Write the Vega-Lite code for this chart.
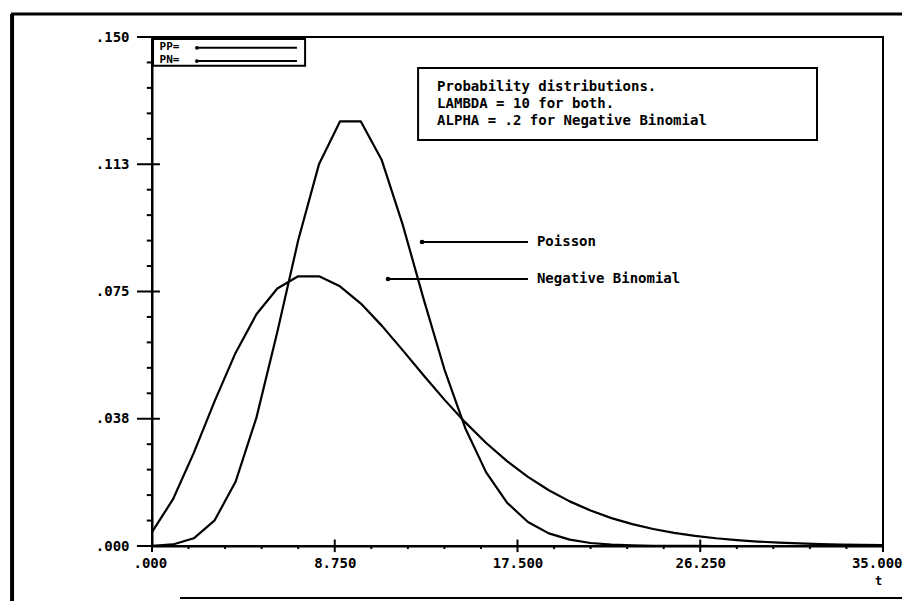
{
  "$schema": "https://vega.github.io/schema/vega-lite/v6.json",
  "width": 731,
  "height": 509,
  "autosize": "none",
  "padding": {"left": 152, "top": 37, "right": 19, "bottom": 55},
  "background": "white",
  "config": {
    "view": {"stroke": "black", "strokeWidth": 2},
    "font": "DejaVu Sans Mono"
  },
  "datasets": {
    "pmf": [
      {"t": 0, "dist": "Poisson", "p": 0.0000454},
      {"t": 1, "dist": "Poisson", "p": 0.000454},
      {"t": 2, "dist": "Poisson", "p": 0.00227},
      {"t": 3, "dist": "Poisson", "p": 0.00757},
      {"t": 4, "dist": "Poisson", "p": 0.01892},
      {"t": 5, "dist": "Poisson", "p": 0.03783},
      {"t": 6, "dist": "Poisson", "p": 0.06306},
      {"t": 7, "dist": "Poisson", "p": 0.09008},
      {"t": 8, "dist": "Poisson", "p": 0.1126},
      {"t": 9, "dist": "Poisson", "p": 0.12511},
      {"t": 10, "dist": "Poisson", "p": 0.12511},
      {"t": 11, "dist": "Poisson", "p": 0.11374},
      {"t": 12, "dist": "Poisson", "p": 0.09478},
      {"t": 13, "dist": "Poisson", "p": 0.07291},
      {"t": 14, "dist": "Poisson", "p": 0.05208},
      {"t": 15, "dist": "Poisson", "p": 0.03472},
      {"t": 16, "dist": "Poisson", "p": 0.0217},
      {"t": 17, "dist": "Poisson", "p": 0.01276},
      {"t": 18, "dist": "Poisson", "p": 0.00709},
      {"t": 19, "dist": "Poisson", "p": 0.00373},
      {"t": 20, "dist": "Poisson", "p": 0.00187},
      {"t": 21, "dist": "Poisson", "p": 0.00089},
      {"t": 22, "dist": "Poisson", "p": 0.0004},
      {"t": 23, "dist": "Poisson", "p": 0.00018},
      {"t": 24, "dist": "Poisson", "p": 0.00007},
      {"t": 25, "dist": "Poisson", "p": 0.00003},
      {"t": 26, "dist": "Poisson", "p": 0.00001},
      {"t": 27, "dist": "Poisson", "p": 0},
      {"t": 28, "dist": "Poisson", "p": 0},
      {"t": 29, "dist": "Poisson", "p": 0},
      {"t": 30, "dist": "Poisson", "p": 0},
      {"t": 31, "dist": "Poisson", "p": 0},
      {"t": 32, "dist": "Poisson", "p": 0},
      {"t": 33, "dist": "Poisson", "p": 0},
      {"t": 34, "dist": "Poisson", "p": 0},
      {"t": 35, "dist": "Poisson", "p": 0},
      {"t": 0, "dist": "Negative Binomial", "p": 0.004115},
      {"t": 1, "dist": "Negative Binomial", "p": 0.013717},
      {"t": 2, "dist": "Negative Binomial", "p": 0.027435},
      {"t": 3, "dist": "Negative Binomial", "p": 0.042677},
      {"t": 4, "dist": "Negative Binomial", "p": 0.056902},
      {"t": 5, "dist": "Negative Binomial", "p": 0.068282},
      {"t": 6, "dist": "Negative Binomial", "p": 0.075869},
      {"t": 7, "dist": "Negative Binomial", "p": 0.079482},
      {"t": 8, "dist": "Negative Binomial", "p": 0.079482},
      {"t": 9, "dist": "Negative Binomial", "p": 0.076538},
      {"t": 10, "dist": "Negative Binomial", "p": 0.071439},
      {"t": 11, "dist": "Negative Binomial", "p": 0.064942},
      {"t": 12, "dist": "Negative Binomial", "p": 0.057726},
      {"t": 13, "dist": "Negative Binomial", "p": 0.050325},
      {"t": 14, "dist": "Negative Binomial", "p": 0.043136},
      {"t": 15, "dist": "Negative Binomial", "p": 0.036426},
      {"t": 16, "dist": "Negative Binomial", "p": 0.030354},
      {"t": 17, "dist": "Negative Binomial", "p": 0.024999},
      {"t": 18, "dist": "Negative Binomial", "p": 0.020369},
      {"t": 19, "dist": "Negative Binomial", "p": 0.016438},
      {"t": 20, "dist": "Negative Binomial", "p": 0.013151},
      {"t": 21, "dist": "Negative Binomial", "p": 0.010437},
      {"t": 22, "dist": "Negative Binomial", "p": 0.008223},
      {"t": 23, "dist": "Negative Binomial", "p": 0.006435},
      {"t": 24, "dist": "Negative Binomial", "p": 0.005005},
      {"t": 25, "dist": "Negative Binomial", "p": 0.003871},
      {"t": 26, "dist": "Negative Binomial", "p": 0.002977},
      {"t": 27, "dist": "Negative Binomial", "p": 0.002279},
      {"t": 28, "dist": "Negative Binomial", "p": 0.001736},
      {"t": 29, "dist": "Negative Binomial", "p": 0.001317},
      {"t": 30, "dist": "Negative Binomial", "p": 0.000995},
      {"t": 31, "dist": "Negative Binomial", "p": 0.000749},
      {"t": 32, "dist": "Negative Binomial", "p": 0.000562},
      {"t": 33, "dist": "Negative Binomial", "p": 0.00042},
      {"t": 34, "dist": "Negative Binomial", "p": 0.000313},
      {"t": 35, "dist": "Negative Binomial", "p": 0.000232}
    ],
    "ymajor": [{"v": 0}, {"v": 0.0375}, {"v": 0.075}, {"v": 0.1125}, {"v": 0.15}],
    "xmajor": [{"v": 0}, {"v": 8.75}, {"v": 17.5}, {"v": 26.25}, {"v": 35}],
    "yminor": [
      {"v": 0.0075}, {"v": 0.015}, {"v": 0.0225}, {"v": 0.03},
      {"v": 0.045}, {"v": 0.0525}, {"v": 0.06}, {"v": 0.0675},
      {"v": 0.0825}, {"v": 0.09}, {"v": 0.0975}, {"v": 0.105},
      {"v": 0.12}, {"v": 0.1275}, {"v": 0.135}, {"v": 0.1425}
    ],
    "xminor": [
      {"v": 1.75}, {"v": 3.5}, {"v": 5.25}, {"v": 7},
      {"v": 10.5}, {"v": 12.25}, {"v": 14}, {"v": 15.75},
      {"v": 19.25}, {"v": 21}, {"v": 22.75}, {"v": 24.5},
      {"v": 28}, {"v": 29.75}, {"v": 31.5}, {"v": 33.25}
    ]
  },
  "layer": [
    {
      "data": {"name": "pmf"},
      "mark": {"type": "line", "color": "black", "strokeWidth": 2.2, "strokeJoin": "round", "clip": true},
      "encoding": {
        "x": {
          "field": "t", "type": "quantitative",
          "scale": {"domain": [0, 35], "nice": false, "zero": false},
          "axis": {
            "values": [0, 8.75, 17.5, 26.25, 35],
            "labelExpr": "datum.value == 0 ? '.000' : datum.value == 8.75 ? '8.750' : datum.value == 17.5 ? '17.500' : datum.value == 26.25 ? '26.250' : '35.000'",
            "ticks": false,
            "domainColor": "black", "domainWidth": 2,
            "labelFont": "DejaVu Sans Mono", "labelFontWeight": "bold", "labelFontSize": 14, "labelColor": "black",
            "labelPadding": 10, "labelOverlap": false, "labelFlush": true, "labelFlushOffset": 19,
            "grid": false,
            "title": "t", "titleFont": "DejaVu Sans Mono", "titleFontWeight": "bold", "titleFontSize": 12, "titleColor": "black",
            "titleX": 726, "titleY": 34, "titleAlign": "center", "titleBaseline": "middle"
          }
        },
        "y": {
          "field": "p", "type": "quantitative",
          "scale": {"domain": [0, 0.15], "nice": false, "zero": false},
          "axis": {
            "values": [0, 0.0375, 0.075, 0.1125, 0.15],
            "labelExpr": "datum.value < 0.001 ? '.000' : abs(datum.value - 0.0375) < 0.001 ? '.038' : abs(datum.value - 0.075) < 0.001 ? '.075' : abs(datum.value - 0.1125) < 0.001 ? '.113' : '.150'",
            "ticks": false,
            "domainColor": "black", "domainWidth": 2,
            "labelFont": "DejaVu Sans Mono", "labelFontWeight": "bold", "labelFontSize": 14, "labelColor": "black",
            "labelPadding": 23, "labelOverlap": false, "labelFlush": false,
            "grid": false, "title": null
          }
        },
        "detail": {"field": "dist", "type": "nominal"}
      }
    },
    {
      "data": {"name": "ymajor"},
      "mark": {"type": "rule", "color": "black", "strokeWidth": 2},
      "encoding": {
        "y": {"field": "v", "type": "quantitative"},
        "x": {"datum": -0.72, "type": "quantitative"},
        "x2": {"datum": 0.38}
      }
    },
    {
      "data": {"name": "xmajor"},
      "mark": {"type": "rule", "color": "black", "strokeWidth": 2},
      "encoding": {
        "x": {"field": "v", "type": "quantitative"},
        "y": {"datum": -0.0018, "type": "quantitative"},
        "y2": {"datum": 0.0019}
      }
    },
    {
      "data": {"name": "yminor"},
      "mark": {"type": "rule", "color": "black", "strokeWidth": 2},
      "encoding": {
        "y": {"field": "v", "type": "quantitative"},
        "x": {"datum": -0.25, "type": "quantitative"},
        "x2": {"datum": 0}
      }
    },
    {
      "data": {"name": "xminor"},
      "mark": {"type": "rule", "color": "black", "strokeWidth": 2},
      "encoding": {
        "x": {"field": "v", "type": "quantitative"},
        "y": {"datum": -0.0009, "type": "quantitative"},
        "y2": {"datum": 0}
      }
    },
    {
      "data": {"values": [{}]},
      "mark": {"type": "rule", "color": "black", "strokeWidth": 4},
      "encoding": {
        "x": {"datum": -6.7, "type": "quantitative"},
        "y": {"datum": 0.1568, "type": "quantitative"},
        "y2": {"datum": -0.0165}
      }
    },
    {
      "data": {"values": [{}]},
      "mark": {"type": "rule", "color": "black", "strokeWidth": 3},
      "encoding": {
        "x": {"datum": -6.75, "type": "quantitative"},
        "x2": {"datum": 36.2},
        "y": {"datum": 0.1568, "type": "quantitative"}
      }
    },
    {
      "data": {"values": [{}]},
      "mark": {"type": "rule", "color": "black", "strokeWidth": 2},
      "encoding": {
        "x": {"datum": 1.34, "type": "quantitative"},
        "x2": {"datum": 36.2},
        "y": {"datum": -0.0153, "type": "quantitative"}
      }
    },
    {
      "data": {"values": [{}]},
      "mark": {"type": "rect", "fill": "white", "stroke": "black", "strokeWidth": 2},
      "encoding": {
        "x": {"datum": 0.05, "type": "quantitative"},
        "x2": {"datum": 7.33},
        "y": {"datum": 0.1494, "type": "quantitative"},
        "y2": {"datum": 0.1415}
      }
    },
    {
      "data": {"values": [{}]},
      "mark": {"type": "text", "align": "left", "baseline": "top", "font": "DejaVu Sans Mono", "fontWeight": "bold", "fontSize": 11, "lineHeight": 13, "color": "black", "text": ["PP=", "PN="]},
      "encoding": {
        "x": {"datum": 0.36, "type": "quantitative"},
        "y": {"datum": 0.1488, "type": "quantitative"}
      }
    },
    {
      "data": {"values": [{}]},
      "mark": {"type": "rule", "color": "black", "strokeWidth": 2},
      "encoding": {
        "x": {"datum": 2.15, "type": "quantitative"},
        "x2": {"datum": 6.94},
        "y": {"datum": 0.1468, "type": "quantitative"}
      }
    },
    {
      "data": {"values": [{}]},
      "mark": {"type": "rule", "color": "black", "strokeWidth": 2},
      "encoding": {
        "x": {"datum": 2.15, "type": "quantitative"},
        "x2": {"datum": 6.94},
        "y": {"datum": 0.1429, "type": "quantitative"}
      }
    },
    {
      "data": {"values": [{}]},
      "mark": {"type": "point", "filled": true, "color": "black", "size": 14, "opacity": 1},
      "encoding": {
        "x": {"datum": 2.15, "type": "quantitative"},
        "y": {"datum": 0.1468, "type": "quantitative"}
      }
    },
    {
      "data": {"values": [{}]},
      "mark": {"type": "point", "filled": true, "color": "black", "size": 14, "opacity": 1},
      "encoding": {
        "x": {"datum": 2.15, "type": "quantitative"},
        "y": {"datum": 0.1429, "type": "quantitative"}
      }
    },
    {
      "data": {"values": [{}]},
      "mark": {"type": "rect", "fill": "white", "stroke": "black", "strokeWidth": 2},
      "encoding": {
        "x": {"datum": 12.74, "type": "quantitative"},
        "x2": {"datum": 31.84},
        "y": {"datum": 0.14087, "type": "quantitative"},
        "y2": {"datum": 0.11965}
      }
    },
    {
      "data": {"values": [{}]},
      "mark": {"type": "text", "align": "left", "baseline": "top", "font": "DejaVu Sans Mono", "fontWeight": "bold", "fontSize": 14, "lineHeight": 17, "color": "black", "text": ["Probability distributions.", "LAMBDA = 10 for both.", "ALPHA = .2 for Negative Binomial"]},
      "encoding": {
        "x": {"datum": 13.65, "type": "quantitative"},
        "y": {"datum": 0.13732, "type": "quantitative"}
      }
    },
    {
      "data": {"values": [{}]},
      "mark": {"type": "rule", "color": "black", "strokeWidth": 2},
      "encoding": {
        "x": {"datum": 12.93, "type": "quantitative"},
        "x2": {"datum": 18.0},
        "y": {"datum": 0.08959, "type": "quantitative"}
      }
    },
    {
      "data": {"values": [{}]},
      "mark": {"type": "point", "filled": true, "color": "black", "size": 22, "opacity": 1},
      "encoding": {
        "x": {"datum": 12.93, "type": "quantitative"},
        "y": {"datum": 0.08959, "type": "quantitative"}
      }
    },
    {
      "data": {"values": [{}]},
      "mark": {"type": "text", "align": "left", "baseline": "middle", "font": "DejaVu Sans Mono", "fontWeight": "bold", "fontSize": 14, "color": "black", "text": "Poisson"},
      "encoding": {
        "x": {"datum": 18.43, "type": "quantitative"},
        "y": {"datum": 0.08959, "type": "quantitative"}
      }
    },
    {
      "data": {"values": [{}]},
      "mark": {"type": "rule", "color": "black", "strokeWidth": 2},
      "encoding": {
        "x": {"datum": 11.3, "type": "quantitative"},
        "x2": {"datum": 18.0},
        "y": {"datum": 0.07868, "type": "quantitative"}
      }
    },
    {
      "data": {"values": [{}]},
      "mark": {"type": "point", "filled": true, "color": "black", "size": 22, "opacity": 1},
      "encoding": {
        "x": {"datum": 11.3, "type": "quantitative"},
        "y": {"datum": 0.07868, "type": "quantitative"}
      }
    },
    {
      "data": {"values": [{}]},
      "mark": {"type": "text", "align": "left", "baseline": "middle", "font": "DejaVu Sans Mono", "fontWeight": "bold", "fontSize": 14, "color": "black", "text": "Negative Binomial"},
      "encoding": {
        "x": {"datum": 18.43, "type": "quantitative"},
        "y": {"datum": 0.07868, "type": "quantitative"}
      }
    }
  ]
}
